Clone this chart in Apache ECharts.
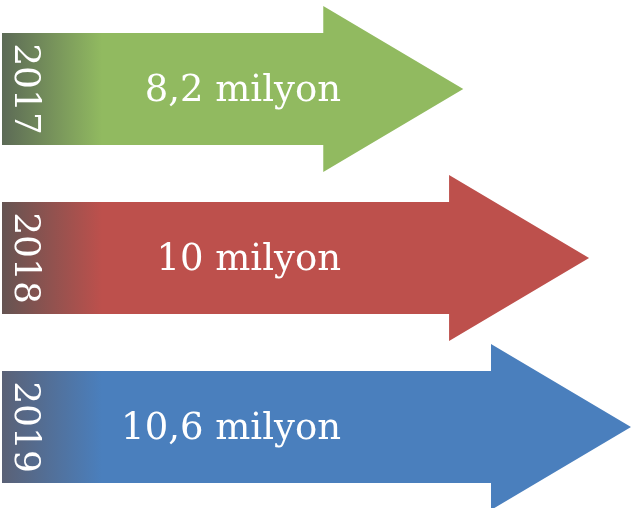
<!DOCTYPE html>
<html lang="tr">

<head>
    <meta charset="UTF-8">
    <title>Arrows</title>
    <style>
        html, body {
            margin: 0;
            padding: 0;
            background: #fff;
        }

        .mychart {
            width: 631px;
            height: 508px;
        }
    </style>
</head>

<body>
    <div class="mychart"></div>
</body>
<script src="https://cdn.jsdelivr.net/npm/echarts@6/dist/echarts.min.js"></script>
<script>
    // data
    const years = ['2017', '2018', '2019']
    const values = [8.2, 10, 10.6]
    const valueLabels = ['8,2 milyon', '10 milyon', '10,6 milyon']

    // colours: full arrow colour and the dark tone at the left end
    const colors = ['#91BA60', '#BD504C', '#4A7FBD']
    const darkColors = ['#5C6A56', '#655452', '#5A6176']

    const axisMin = 1.6
    const axisMax = 10.6

    const mychartDom = document.querySelector('.mychart')
    const myChart = echarts.init(mychartDom)

    function renderArrow(params, api) {
        const i = params.dataIndex
        const tip = api.coord([api.value(1), i])
        const start = api.coord([axisMin, i])
        const cy = tip[1]
        const bodyH = 112
        const headH = 166
        const headL = 140
        const hx = tip[0] - headL
        const x0 = start[0]
        return {
            type: 'group',
            children: [{
                type: 'polygon',
                shape: {
                    points: [
                        [x0, cy - bodyH / 2],
                        [hx, cy - bodyH / 2],
                        [hx, cy - headH / 2],
                        [tip[0], cy],
                        [hx, cy + headH / 2],
                        [hx, cy + bodyH / 2],
                        [x0, cy + bodyH / 2]
                    ]
                },
                style: {
                    fill: {
                        type: 'linear',
                        x: x0,
                        y: 0,
                        x2: x0 + 100,
                        y2: 0,
                        global: true,
                        colorStops: [{
                            offset: 0,
                            color: darkColors[i]
                        }, {
                            offset: 1,
                            color: colors[i]
                        }]
                    }
                }
            }, {
                // year, turned to read top to bottom
                type: 'text',
                x: x0 + 22,
                y: cy,
                rotation: -Math.PI / 2,
                style: {
                    text: years[i],
                    x: 0,
                    y: 0,
                    fill: '#fff',
                    fontFamily: 'DejaVu Serif',
                    fontSize: 36,
                    align: 'center',
                    verticalAlign: 'middle'
                }
            }, {
                type: 'text',
                style: {
                    text: valueLabels[i],
                    x: 341,
                    y: cy + 2,
                    fill: '#fff',
                    fontFamily: 'DejaVu Serif',
                    fontSize: 37,
                    align: 'right',
                    verticalAlign: 'middle'
                }
            }]
        }
    }

    const config = {
        animation: false,
        grid: {
            left: 2,
            right: 0,
            top: 4.5,
            height: 507,
            outerBoundsMode: 'none'
        },
        xAxis: {
            type: 'value',
            min: axisMin,
            max: axisMax,
            show: false
        },
        yAxis: {
            type: 'category',
            data: years,
            inverse: true,
            show: false
        },
        series: [{
            type: 'custom',
            renderItem: renderArrow,
            encode: {
                x: 1,
                y: 0
            },
            data: values.map((v, i) => [i, v])
        }]
    }
    myChart.setOption(config)
</script>

</html>
